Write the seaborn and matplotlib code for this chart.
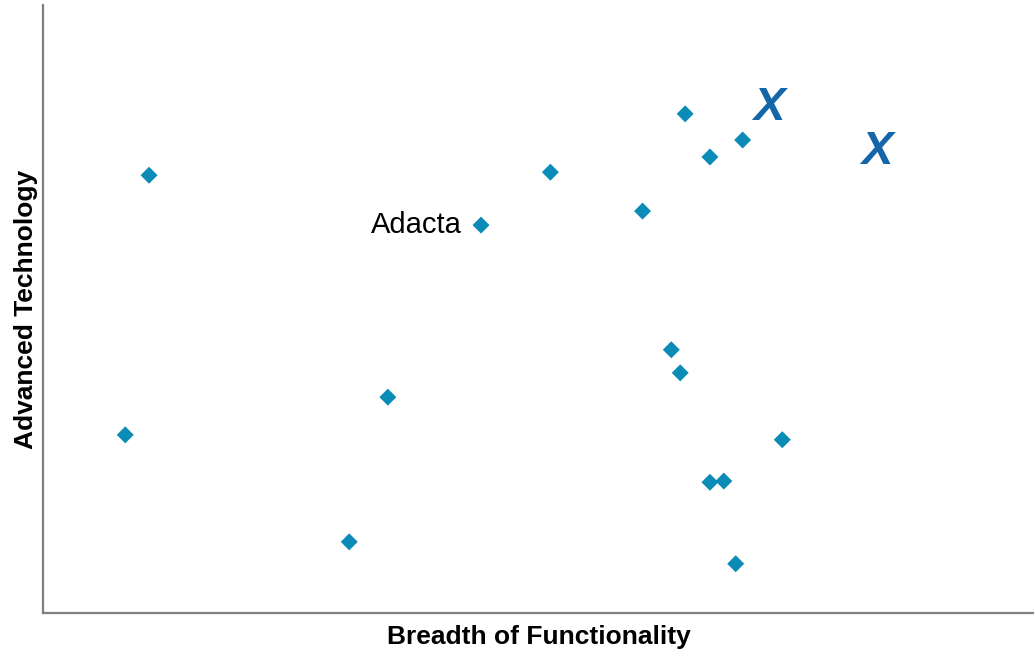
import numpy as np
import pandas as pd
import matplotlib
matplotlib.use("Agg")
import matplotlib.pyplot as plt
import seaborn as sns

# vendor positions (0-100 scale on both axes)
breadth = [10.7, 8.3, 30.9, 34.8, 44.2, 51.2, 60.5, 64.8, 67.3, 70.6,
           63.4, 64.3, 74.6, 67.3, 68.7, 69.9]
technology = [72.0, 29.3, 11.7, 35.5, 63.8, 72.5, 66.1, 82.1, 75.0, 77.8,
              43.3, 39.5, 28.5, 21.5, 21.7, 8.1]
vendor = ["", "", "", "", "Adacta", "", "", "", "", "",
          "", "", "", "", "", ""]

# the two "X" markers
x_breadth = [73.3, 84.1]
x_technology = [83.1, 75.8]

df = pd.DataFrame({"Breadth": breadth, "Technology": technology, "Vendor": vendor})

sns.set_style("white")
plt.rcParams['font.family'] = ['Liberation Sans', 'DejaVu Sans']

fig = plt.figure(figsize=(10.34, 6.52), dpi=100)
ax = fig.add_axes([43 / 1034, 39 / 652, 991 / 1034, 608 / 652])

sns.scatterplot(data=df, x="Breadth", y="Technology", marker="D", s=75,
                color="#0b8cb6", edgecolor="none", linewidth=0, ax=ax)

for _, row in df[df["Vendor"] != ""].iterrows():
    ax.text(row["Breadth"] - 1.9, row["Technology"], row["Vendor"],
            ha="right", va="center", fontsize=21, color="black")

for xb, yt in zip(x_breadth, x_technology):
    ax.text(xb, yt, "X", ha="center", va="center", fontsize=34,
            fontweight="bold", fontstyle="italic", color="#1466a8")

ax.set_xlim(0, 100)
ax.set_ylim(0, 100)
ax.set_xticks([])
ax.set_yticks([])

for side in ["top", "right"]:
    ax.spines[side].set_visible(False)
for side in ["left", "bottom"]:
    ax.spines[side].set_color("#808080")
    ax.spines[side].set_linewidth(1.6)

ax.set_xlabel("Breadth of Functionality", fontsize=19, fontweight="bold", color="black")
ax.set_ylabel("Advanced Technology", fontsize=19, fontweight="bold", color="black")
ax.xaxis.set_label_coords(0.5, -0.02)
ax.yaxis.set_label_coords(-0.005, 0.5)

fig.savefig("out.png", dpi=100)
